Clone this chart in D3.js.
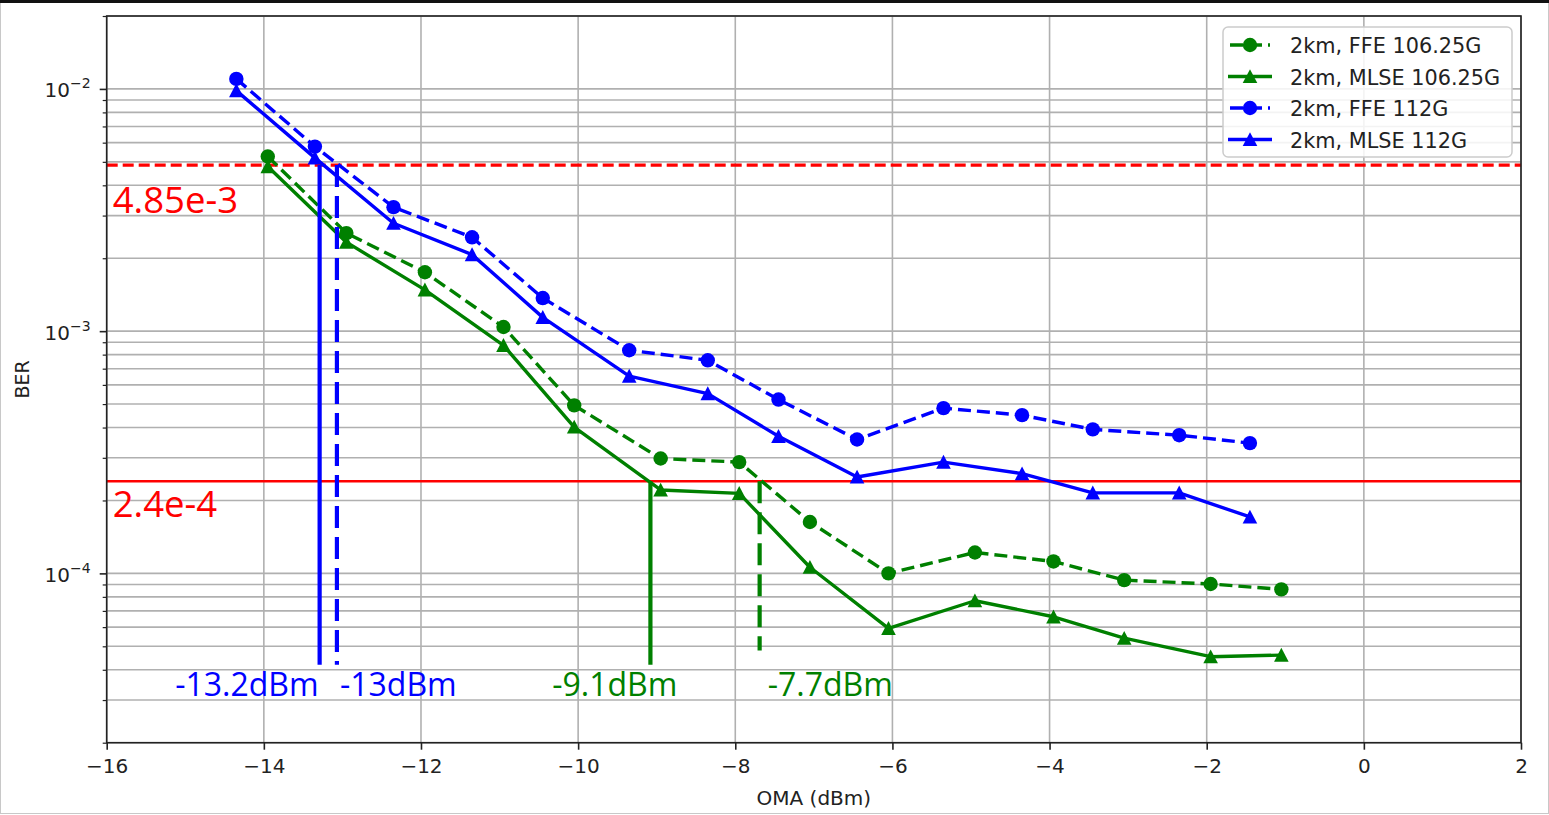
<!DOCTYPE html>
<html>
<head>
<meta charset="utf-8">
<script src="https://cdn.jsdelivr.net/npm/d3@7"></script>
<style>
  html, body { margin: 0; padding: 0; background: #fff; }
  svg { display: block; }
</style>
</head>
<body>
<svg id="chart" width="1549" height="815"></svg>
<script>
// ---------------- data ----------------
const xGreen = [-13.95, -12.95, -11.95, -10.95, -10.05, -8.95, -7.95, -7.05, -6.05, -4.95, -3.95, -3.05, -1.95, -1.05];
const ffe106 = [5.26e-3, 2.54e-3, 1.75e-3, 1.04e-3, 4.94e-4, 2.98e-4, 2.88e-4, 1.63e-4, 1.00e-4, 1.22e-4, 1.12e-4, 9.38e-5, 9.04e-5, 8.59e-5];
const mlse106 = [4.78e-3, 2.33e-3, 1.48e-3, 8.74e-4, 4.02e-4, 2.21e-4, 2.14e-4, 1.06e-4, 5.93e-5, 7.71e-5, 6.62e-5, 5.40e-5, 4.53e-5, 4.60e-5];
const xBlue = [-14.35, -13.35, -12.35, -11.35, -10.45, -9.35, -8.35, -7.45, -6.45, -5.35, -4.35, -3.45, -2.35, -1.45];
const ffe112 = [1.10e-2, 5.78e-3, 3.25e-3, 2.44e-3, 1.37e-3, 8.34e-4, 7.58e-4, 5.22e-4, 3.57e-4, 4.81e-4, 4.50e-4, 3.93e-4, 3.72e-4, 3.45e-4];
const mlse112 = [9.84e-3, 5.19e-3, 2.79e-3, 2.07e-3, 1.14e-3, 6.52e-4, 5.52e-4, 3.68e-4, 2.50e-4, 2.88e-4, 2.58e-4, 2.15e-4, 2.15e-4, 1.71e-4];
const seriesNames = ["2km, FFE 106.25G", "2km, MLSE 106.25G", "2km, FFE 112G", "2km, MLSE 112G"];

const thresholds = [4.85e-3, 2.4e-4];
const thresholdLabels = ["4.85e-3", "2.4e-4"];

const crossX = [-13.29, -13.07, -9.08, -7.69];
const crossTop = [4.85e-3, 4.85e-3, 2.4e-4, 2.4e-4];
const crossBottom = [4.2e-5, 4.2e-5, 4.2e-5, 4.8e-5];
const crossLabels = ["-13.2dBm", "-13dBm", "-9.1dBm", "-7.7dBm"];

const xTicks = [-16, -14, -12, -10, -8, -6, -4, -2, 0, 2];
const yMajorTicks = [1e-2, 1e-3, 1e-4];
const yMajorExp = ["\u22122", "\u22123", "\u22124"];

// ---------------- layout ----------------
const svg = d3.select("#chart");
const L = 106.7, R = 1521, T = 16, B = 742.7;
const x = d3.scaleLinear().domain([-16, 2]).range([L, R]);
const y = d3.scaleLog().domain([2e-5, 2e-2]).range([B, T]);

const GREEN = "#008000", BLUE = "#0000ff", RED = "#ff0000";
const tickFont = "'DejaVu Sans', sans-serif";
const annFont = "'Open Sans', sans-serif";

// outer frame
svg.append("rect").attr("x", 0.5).attr("y", 0.5).attr("width", 1548).attr("height", 813)
  .attr("fill", "none").attr("stroke", "#c8c8c8").attr("stroke-width", 1);
svg.append("line").attr("x1", 0).attr("x2", 1549).attr("y1", 1.5).attr("y2", 1.5)
  .attr("stroke", "#111").attr("stroke-width", 3);

// minor y values
const yMinor = [];
for (let e = -5; e <= -2; e++) {
  for (let m = 2; m <= 9; m++) {
    const v = m * Math.pow(10, e);
    if (v >= 2e-5 * 0.999 && v <= 2e-2 * 1.001) yMinor.push(v);
  }
}

const grid = svg.append("g");
grid.selectAll("line.ymin").data(yMinor).join("line")
  .attr("x1", L).attr("x2", R).attr("y1", d => y(d)).attr("y2", d => y(d))
  .attr("stroke", "#b0b0b0").attr("stroke-width", 1.6);
grid.selectAll("line.ymaj").data(yMajorTicks).join("line")
  .attr("x1", L).attr("x2", R).attr("y1", d => y(d)).attr("y2", d => y(d))
  .attr("stroke", "#b0b0b0").attr("stroke-width", 1.6);
grid.selectAll("line.xg").data(xTicks).join("line")
  .attr("x1", d => x(d)).attr("x2", d => x(d)).attr("y1", T).attr("y2", B)
  .attr("stroke", "#b0b0b0").attr("stroke-width", 1.6);

// axes via d3 axis
const xAxis = d3.axisBottom(x).tickValues(xTicks).tickSize(7).tickPadding(9)
  .tickFormat(d => (d < 0 ? "\u2212" + Math.abs(d) : String(d)));
const gx = svg.append("g").attr("transform", `translate(0,${B})`).call(xAxis);
gx.select(".domain").remove();
gx.selectAll(".tick line").attr("stroke", "#222").attr("stroke-width", 1.6);
gx.selectAll(".tick text").attr("font-family", tickFont).attr("font-size", 20).attr("fill", "#222");

const yAxisMinor = d3.axisLeft(y).tickValues(yMinor).tickSize(4).tickFormat("");
const gym = svg.append("g").attr("transform", `translate(${L},0)`).call(yAxisMinor);
gym.select(".domain").remove();
gym.selectAll(".tick line").attr("stroke", "#222").attr("stroke-width", 1.2);

const yAxis = d3.axisLeft(y).tickValues(yMajorTicks).tickSize(7).tickFormat("");
const gy = svg.append("g").attr("transform", `translate(${L},0)`).call(yAxis);
gy.select(".domain").remove();
gy.selectAll(".tick line").attr("stroke", "#222").attr("stroke-width", 1.6);
gy.selectAll(".tick").each(function(d, i) {
  const t = d3.select(this).append("text")
    .attr("x", -16).attr("y", 8)
    .attr("text-anchor", "end")
    .attr("font-family", tickFont).attr("font-size", 20).attr("fill", "#222");
  t.append("tspan").text("10");
  t.append("tspan").attr("dy", -9).attr("font-size", 14).text(yMajorExp[i]);
});

// axis labels
svg.append("text").attr("x", (L + R) / 2).attr("y", 805).attr("text-anchor", "middle")
  .attr("font-family", tickFont).attr("font-size", 20).attr("fill", "#222").text("OMA (dBm)");
svg.append("text").attr("transform", `translate(29,${(T + B) / 2}) rotate(-90)`).attr("text-anchor", "middle")
  .attr("font-family", tickFont).attr("font-size", 19).attr("fill", "#222").text("BER");

// clip
svg.append("clipPath").attr("id", "clip").append("rect")
  .attr("x", L).attr("y", T).attr("width", R - L).attr("height", B - T);
const plot = svg.append("g").attr("clip-path", "url(#clip)");

// threshold lines
plot.append("line").attr("x1", L).attr("x2", R).attr("y1", y(thresholds[0])).attr("y2", y(thresholds[0]))
  .attr("stroke", RED).attr("stroke-width", 3.2).attr("stroke-dasharray", "11,5");
plot.append("line").attr("x1", L).attr("x2", R).attr("y1", y(thresholds[1])).attr("y2", y(thresholds[1]))
  .attr("stroke", RED).attr("stroke-width", 2.5);

// series
const series = [
  { xs: xGreen, ys: ffe106, color: GREEN, dash: "13,6", marker: "circle" },
  { xs: xGreen, ys: mlse106, color: GREEN, dash: null, marker: "tri" },
  { xs: xBlue, ys: ffe112, color: BLUE, dash: "13,6", marker: "circle" },
  { xs: xBlue, ys: mlse112, color: BLUE, dash: null, marker: "tri" }
];
const line = d3.line().x(d => x(d[0])).y(d => y(d[1]));
const triPath = "M0,-7.3L7.3,6.6L-7.3,6.6Z";

function drawMarker(g, kind, color, cx, cy) {
  if (kind === "circle") {
    g.append("circle").attr("cx", cx).attr("cy", cy).attr("r", 7.2).attr("fill", color);
  } else {
    g.append("path").attr("d", triPath).attr("transform", `translate(${cx},${cy})`).attr("fill", color);
  }
}

series.forEach(s => {
  const pts = s.xs.map((v, i) => [v, s.ys[i]]);
  const p = plot.append("path").datum(pts).attr("d", line)
    .attr("fill", "none").attr("stroke", s.color).attr("stroke-width", 3.4)
    .attr("stroke-linejoin", "round");
  if (s.dash) p.attr("stroke-dasharray", s.dash);
  const g = plot.append("g");
  pts.forEach(d => drawMarker(g, s.marker, s.color, x(d[0]), y(d[1])));
});

// crossing vertical lines
const crossColor = [BLUE, BLUE, GREEN, GREEN];
const crossDash = [null, "22,9", null, "22,9"];
crossX.forEach((v, i) => {
  const l = plot.append("line").attr("x1", x(v)).attr("x2", x(v))
    .attr("y1", y(crossTop[i])).attr("y2", y(crossBottom[i]))
    .attr("stroke", crossColor[i]).attr("stroke-width", 4.2);
  if (crossDash[i]) l.attr("stroke-dasharray", crossDash[i]);
});

// annotation text
const thrLabelBase = [213, 517];
thresholds.forEach((v, i) => {
  svg.append("text").attr("x", L + 6).attr("y", thrLabelBase[i])
    .attr("font-family", annFont).attr("font-size", 36.5).attr("fill", RED).text(thresholdLabels[i]);
});
const crossAnchor = ["end", "start", "end", "start"];
const crossOffset = [-1, 3, 27, 8];
crossLabels.forEach((t, i) => {
  svg.append("text").attr("x", x(crossX[i]) + crossOffset[i]).attr("y", 696)
    .attr("text-anchor", crossAnchor[i])
    .attr("font-family", annFont).attr("font-size", 32).attr("fill", crossColor[i]).text(t);
});

// spines
svg.append("rect").attr("x", L).attr("y", T).attr("width", R - L).attr("height", B - T)
  .attr("fill", "none").attr("stroke", "#222").attr("stroke-width", 1.6);

// legend
const lg = svg.append("g");
lg.append("rect").attr("x", 1223).attr("y", 27).attr("width", 289).attr("height", 130).attr("rx", 5)
  .attr("fill", "#fff").attr("fill-opacity", 0.85).attr("stroke", "#cccccc").attr("stroke-width", 1.5);
const rowY = [45, 76.5, 108, 139.5];
series.forEach((s, i) => {
  const ly = rowY[i];
  const ll = lg.append("line").attr("x1", 1228).attr("x2", 1272).attr("y1", ly).attr("y2", ly)
    .attr("stroke", s.color).attr("stroke-width", 3.4);
  if (s.dash) ll.attr("stroke-dasharray", s.dash).attr("x1", 1230).attr("x2", 1270);
  drawMarker(lg, s.marker, s.color, 1250, ly);
  lg.append("text").attr("x", 1290).attr("y", ly + 8)
    .attr("font-family", tickFont).attr("font-size", 20.8).attr("fill", "#222").text(seriesNames[i]);
});
</script>
</body>
</html>
